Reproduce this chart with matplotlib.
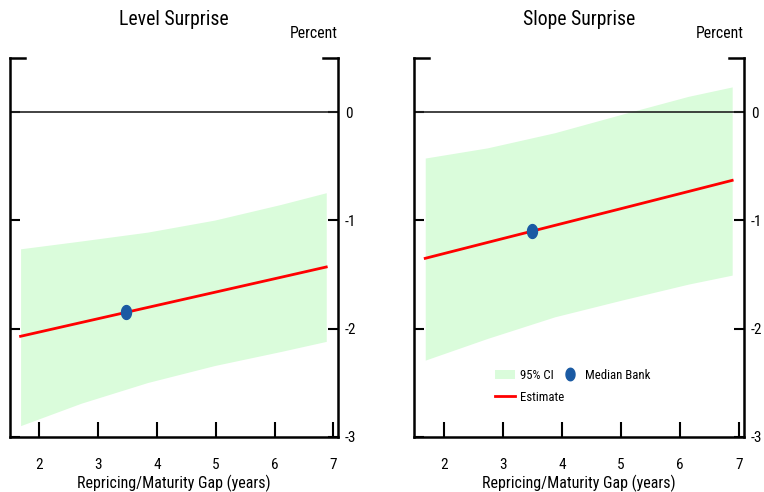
import matplotlib
matplotlib.use("Agg")
import matplotlib.pyplot as plt
import numpy as np
from matplotlib.path import Path
from matplotlib.patches import Patch
from matplotlib.lines import Line2D

plt.rcParams['font.family'] = ['Roboto Condensed', 'Liberation Sans', 'DejaVu Sans']

# ---- data ----
level_x = [1.68, 2.71, 3.84, 4.98, 6.11, 6.88]
level_est = [-2.07, -1.943, -1.804, -1.664, -1.525, -1.43]
level_upper = [-1.262, -1.19, -1.108, -0.997, -0.852, -0.744]
level_lower = [-2.895, -2.688, -2.497, -2.34, -2.21, -2.117]
level_median = (3.47, -1.85)

slope_x = [1.69, 2.74, 3.88, 5.01, 6.14, 6.88]
slope_est = [-1.35, -1.204, -1.046, -0.89, -0.733, -0.63]
slope_upper = [-0.424, -0.33, -0.19, -0.02, 0.146, 0.233]
slope_lower = [-2.29, -2.09, -1.89, -1.736, -1.588, -1.505]
slope_median = (3.49, -1.10)

titles = ["Level Surprise", "Slope Surprise"]
xlabel = "Repricing/Maturity Gap (years)"
yticks = [-3, -2, -1, 0]
xticks = [2, 3, 4, 5, 6, 7]

GREEN = '#dafcdb'
RED = '#ff0000'
BLUE = '#1a5aa3'

# ellipse marker (taller than wide)
t = np.linspace(0, 2 * np.pi, 40)
ell = Path(np.column_stack([0.72 * np.cos(t), np.sin(t)]), closed=True)

fig = plt.figure(figsize=(7.64, 4.92), dpi=100)
W, H = 764, 492
bottom = 1 - 437 / H
height = 379 / H
axes = [fig.add_axes([10 / W, bottom, 328 / W, height]),
        fig.add_axes([414 / W, bottom, 330 / W, height])]

datasets = [(level_x, level_est, level_upper, level_lower, level_median),
            (slope_x, slope_est, slope_upper, slope_lower, slope_median)]

for i, (ax, (xs, est, up, lo, med)) in enumerate(zip(axes, datasets)):
    ax.fill_between(xs, lo, up, color=GREEN, lw=0, zorder=1)
    ax.axhline(0, color='#222222', lw=1.2, zorder=2)
    ax.plot(xs, est, color=RED, lw=2, zorder=3)
    ax.plot([med[0]], [med[1]], marker=ell, color=BLUE, ms=10, ls='none', zorder=4)
    ax.set_xlim(1.5, 7.08)
    ax.set_ylim(-3, 0.5)
    ax.spines['top'].set_visible(False)
    for s in ['left', 'right', 'bottom']:
        ax.spines[s].set_linewidth(1.8)
    ax.set_yticks(yticks)
    ax.set_yticklabels([str(v) for v in yticks])
    ax.set_xticks(xticks)
    ax.tick_params(axis='y', direction='in', left=True, right=True,
                   labelleft=False, labelright=True, length=7, width=1.5,
                   labelsize=11, pad=5)
    ax.tick_params(axis='x', direction='in', length=11, width=1.5,
                   labelsize=11, pad=15)
    # top corner marks
    ax.plot([0, 0.046], [1, 1], transform=ax.transAxes, clip_on=False, color='k', lw=1.8)
    ax.plot([0.954, 1], [1, 1], transform=ax.transAxes, clip_on=False, color='k', lw=1.8)
    ax.text(1.0, 1.045, "Percent", transform=ax.transAxes, ha='right', va='bottom', fontsize=11.3)
    ax.set_title(titles[i], fontsize=14.2, pad=24)
    ax.set_xlabel(xlabel, fontsize=11.5, labelpad=2)

handles = [Patch(facecolor=GREEN, edgecolor='none'),
           Line2D([], [], color=RED, lw=2),
           Line2D([], [], marker=ell, color=BLUE, ms=9, ls='none')]
labels = ["95% CI", "Estimate", "Median Bank"]
axes[1].legend(handles, labels, ncol=2, loc='upper left', bbox_to_anchor=(0.245, 0.18),
               frameon=False, fontsize=9.2, handlelength=1.6, handletextpad=0.4,
               columnspacing=-0.4, labelspacing=0.7, borderpad=0, borderaxespad=0)

fig.savefig("out.png", dpi=100)
